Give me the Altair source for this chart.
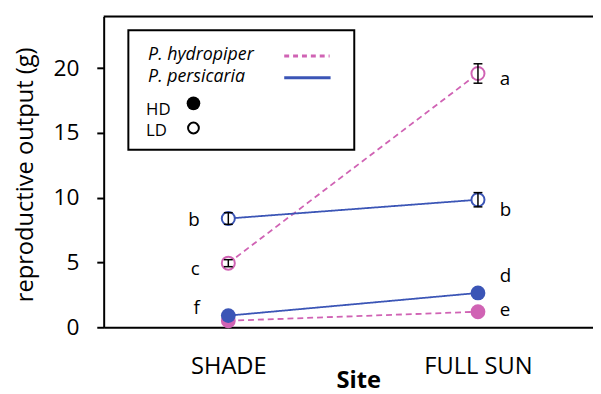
import altair as alt
import pandas as pd

# ---- data ----
sites = ["SHADE", "FULL SUN"]
species = ["P. hydropiper", "P. persicaria"]
hydro_hd = [0.5, 1.2]
hydro_ld = [4.95, 19.6]
hydro_ld_err = [0.27, 0.75]
pers_hd = [0.9, 2.65]
pers_ld = [8.4, 9.85]
pers_ld_err = [0.45, 0.55]
letters_shade = ["b", "c", "f"]
letters_shade_y = [7.8, 4.0, 1.0]
letters_sun = ["a", "b", "d", "e"]
letters_sun_y = [18.7, 8.6, 3.5, 0.9]

PINK = "#d063b4"
BLUE = "#3b55b6"
FONT = "Open Sans"

rows = []
for i, s in enumerate(sites):
    rows.append(dict(site=s, species=species[0], density="HD", value=hydro_hd[i], err=0.0))
    rows.append(dict(site=s, species=species[0], density="LD", value=hydro_ld[i], err=hydro_ld_err[i]))
    rows.append(dict(site=s, species=species[1], density="HD", value=pers_hd[i], err=0.0))
    rows.append(dict(site=s, species=species[1], density="LD", value=pers_ld[i], err=pers_ld_err[i]))
df = pd.DataFrame(rows)
df["lo"] = df["value"] - df["err"]
df["hi"] = df["value"] + df["err"]
df["grp"] = df["species"] + " " + df["density"]

lab = pd.DataFrame(
    [dict(site=sites[0], letter=l, y=v) for l, v in zip(letters_shade, letters_shade_y)]
    + [dict(site=sites[1], letter=l, y=v) for l, v in zip(letters_sun, letters_sun_y)]
)

W, H = 496, 315

xenc = alt.X(
    "site:N",
    sort=sites,
    scale=alt.Scale(type="point", padding=0.48, align=0.52),
    axis=alt.Axis(
        ticks=False, tickSize=0, domainColor="black", domainWidth=2,
        labelFontSize=24, labelColor="black", labelFont=FONT, labelAngle=0,
        labelBaseline="alphabetic", labelPadding=47,
        title="Site", titleFontSize=24, titleFontWeight="bold", titleFont=FONT,
        titleColor="black", titleX=258, titleY=61, titleBaseline="alphabetic",
    ),
)
yscale = alt.Scale(domain=[0, 24], nice=False)
yenc = alt.Y(
    "value:Q",
    scale=yscale,
    axis=alt.Axis(
        values=[0, 5, 10, 15, 20], grid=False, tickSize=7, tickWidth=2,
        tickColor="black", domainColor="black", domainWidth=2,
        labelFontSize=23, labelColor="black", labelFont=FONT, labelPadding=18,
        title="reproductive output (g)", titleFontSize=24, titleFontWeight="normal",
        titleFont=FONT, titleColor="black", titleX=-72, titleY=160,
        titleBaseline="alphabetic",
    ),
)
col = alt.Color("species:N", scale=alt.Scale(domain=species, range=[PINK, BLUE]), legend=None)

base = alt.Chart(df)

lines = base.mark_line(strokeWidth=1.8).encode(
    x=xenc, y=yenc, color=col, detail="grp:N",
    strokeDash=alt.StrokeDash("species:N", scale=alt.Scale(domain=species, range=[[6, 4], [1, 0]]), legend=None),
)
hd_pts = base.transform_filter(alt.datum.density == "HD").mark_circle(size=225, opacity=1).encode(
    x=xenc, y=yenc, color=col
)
ld_pts = base.transform_filter(alt.datum.density == "LD").mark_point(
    shape="circle", filled=False, fill="white", fillOpacity=1, strokeWidth=2, size=175, opacity=1
).encode(x=xenc, y=yenc, color=col)

eb = base.transform_filter(alt.datum.err > 0)
err_rule = eb.mark_rule(color="black", strokeWidth=1.5).encode(x=xenc, y=alt.Y("lo:Q", scale=yscale), y2="hi:Q")
cap_lo = eb.mark_tick(color="black", thickness=1.5, size=9, opacity=1).encode(x=xenc, y=alt.Y("lo:Q", scale=yscale))
cap_hi = eb.mark_tick(color="black", thickness=1.5, size=9, opacity=1).encode(x=xenc, y=alt.Y("hi:Q", scale=yscale))

lab_l = alt.Chart(lab).transform_filter(alt.datum.site == sites[0]).mark_text(
    align="right", baseline="alphabetic", dx=-29, fontSize=19, font=FONT, color="black"
).encode(x=xenc, y=alt.Y("y:Q", scale=yscale), text="letter:N")
lab_r = alt.Chart(lab).transform_filter(alt.datum.site == sites[1]).mark_text(
    align="left", baseline="alphabetic", dx=22, fontSize=19, font=FONT, color="black"
).encode(x=xenc, y=alt.Y("y:Q", scale=yscale), text="letter:N")

one = pd.DataFrame({"k": [0]})
top_rule = alt.Chart(one).mark_rule(color="black", strokeWidth=2).encode(
    x=alt.value(0), x2=alt.value(W), y=alt.value(0)
)

# ---- hand-built legend box ----
leg_box = alt.Chart(one).mark_rect(fill="white", stroke="black", strokeWidth=2).encode(
    x=alt.value(25), x2=alt.value(254), y=alt.value(14), y2=alt.value(135)
)
def txt(t, x, y, italic=False, size=18):
    return alt.Chart(one).mark_text(
        text=t, align="left", baseline="alphabetic", fontSize=size, font=FONT,
        fontStyle="italic" if italic else "normal", color="black"
    ).encode(x=alt.value(x), y=alt.value(y))
leg_t1 = txt(species[0], 45, 44, True, 18)
leg_t2 = txt(species[1], 45, 66, True, 18)
leg_t3 = txt("HD", 43, 100, size=17)
leg_t4 = txt("LD", 43, 121, size=17)
leg_l1 = alt.Chart(one).mark_rule(color=PINK, strokeWidth=3, strokeDash=[5, 4]).encode(
    x=alt.value(183), x2=alt.value(229), y=alt.value(40)
)
leg_l2 = alt.Chart(one).mark_rule(color=BLUE, strokeWidth=3).encode(
    x=alt.value(183), x2=alt.value(230), y=alt.value(62)
)
leg_p1 = alt.Chart(one).mark_point(shape="circle", filled=True, color="black", size=190, opacity=1).encode(
    x=alt.value(91), y=alt.value(88)
)
leg_p2 = alt.Chart(one).mark_point(shape="circle", filled=False, color="black", strokeWidth=2, size=120, opacity=1).encode(
    x=alt.value(91), y=alt.value(113)
)

chart = alt.layer(
    top_rule, lines, hd_pts, ld_pts, err_rule, cap_lo, cap_hi, lab_l, lab_r,
    leg_box, leg_t1, leg_t2, leg_t3, leg_t4, leg_l1, leg_l2, leg_p1, leg_p2,
).properties(
    width=W, height=H,
    autosize=alt.AutoSizeParams(type="none"),
    padding={"left": 97, "top": 6, "right": 0, "bottom": 65},
).configure_view(stroke=None).configure(background="white")

chart.save("out.html", embed_options={"renderer": "svg", "actions": False})
